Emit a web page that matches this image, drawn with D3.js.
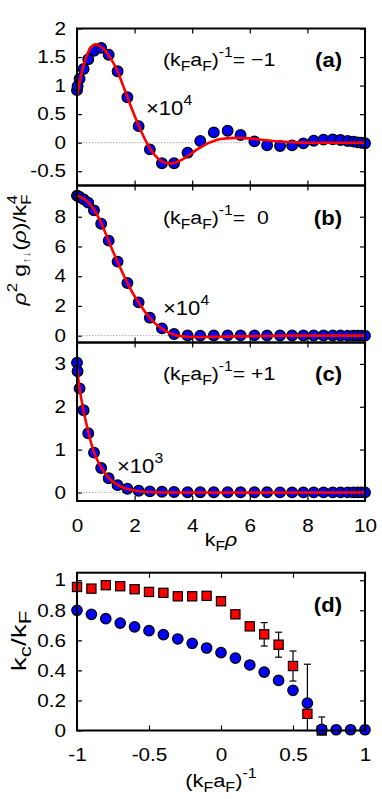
<!DOCTYPE html>
<html><head><meta charset="utf-8">
<script src="https://cdn.jsdelivr.net/npm/d3@7"></script>
<style>body{margin:0;background:#fff} text{font-family:"Liberation Sans",Arial,Helvetica,sans-serif}</style>
</head><body><svg id="c" width="382" height="799"></svg>
<script>
// ---------- data ----------
const rhoGrid = [0, 0.02, 0.09, 0.23, 0.39, 0.59, 0.84, 1.1, 1.41, 1.75, 2.14, 2.53, 2.95, 3.37, 3.84, 4.28, 4.75, 5.23, 5.68, 6.16, 6.6, 7.05, 7.47, 7.86, 8.22, 8.56, 8.88, 9.15, 9.4, 9.6, 9.75, 9.88, 10];
const pointsA = [0.92, 0.99, 1.12, 1.29, 1.46, 1.61, 1.66, 1.54, 1.25, 0.795, 0.29, -0.117, -0.36, -0.36, -0.175, 0.03, 0.18, 0.21, 0.135, 0.023, -0.047, -0.058, -0.047, -0.012, 0.035, 0.053, 0.058, 0.047, 0.03, 0.018, 0.006, 0.0, -0.01];
const pointsB = [9.42, 9.40, 9.33, 9.17, 8.95, 8.43, 7.53, 6.39, 4.98, 3.54, 2.24, 1.21, 0.49, 0.11, 0.01, 0.0, 0.01, 0.02, 0.02, 0.02, 0.01, 0.01, 0.01, 0.01, 0.01, 0.01, 0.01, 0.01, 0.0, 0.0, 0.0, 0.0, 0.0];
const pointsC = [3.03, 2.83, 2.43, 1.92, 1.38, 0.93, 0.57, 0.33, 0.17, 0.087, 0.04, 0.024, 0.015, 0.01, 0.006, 0.005, 0.004, 0.004, 0.003, 0.003, 0.003, 0.002, 0.002, 0.002, 0.002, 0.002, 0.002, 0.002, 0.002, 0.002, 0.002, 0.002, 0.002];

const fitAx = [0, 0.1, 0.2, 0.3, 0.4, 0.5, 0.6, 0.7, 0.8, 0.9, 1.0, 1.2, 1.4, 1.6, 1.8, 2.0, 2.2, 2.4, 2.6, 2.8, 3.0, 3.2, 3.4, 3.6, 3.8, 4.0, 4.2, 4.4, 4.6, 4.8, 5.0, 5.3, 5.6, 6.0, 6.4, 6.8, 7.2, 7.6, 8.0, 9.0, 10];
const fitAy = [0.82, 1.08, 1.3, 1.47, 1.6, 1.68, 1.72, 1.72, 1.69, 1.65, 1.6, 1.45, 1.26, 1.0, 0.73, 0.47, 0.23, 0.02, -0.15, -0.27, -0.34, -0.365, -0.35, -0.31, -0.25, -0.18, -0.11, -0.05, 0.0, 0.04, 0.065, 0.08, 0.085, 0.075, 0.05, 0.03, 0.015, 0.005, 0.0, 0.0, 0.0];
const fitBx = [0, 0.2, 0.4, 0.6, 0.8, 1.0, 1.2, 1.4, 1.6, 1.8, 2.0, 2.2, 2.4, 2.6, 2.8, 3.0, 3.2, 3.4, 3.6, 3.8, 4.2, 4.8, 5.5, 6.5, 7.5, 10];
const fitBy = [9.42, 9.25, 8.95, 8.45, 7.75, 6.85, 5.9, 5.0, 4.15, 3.35, 2.65, 2.05, 1.5, 1.05, 0.68, 0.4, 0.19, 0.05, -0.03, -0.07, -0.09, -0.08, -0.05, -0.02, 0.0, 0.0];
const fitCx = [0, 0.1, 0.2, 0.3, 0.4, 0.5, 0.6, 0.8, 1.0, 1.2, 1.4, 1.6, 1.8, 2.0, 2.4, 3.0, 10];
const fitCy = [2.9, 2.38, 2.0, 1.68, 1.4, 1.13, 0.92, 0.63, 0.42, 0.28, 0.18, 0.115, 0.075, 0.045, 0.015, 0.0, 0.0];

const xTicksRho = [0, 2, 4, 6, 8, 10];
const yTicksA = [-0.5, 0, 0.5, 1, 1.5, 2];
const yTicksB = [0, 2, 4, 6, 8];
const yTicksC = [0, 1, 2, 3];

const invA = [-1, -0.9, -0.8, -0.7, -0.6, -0.5, -0.4, -0.3, -0.2, -0.1, 0, 0.1, 0.2, 0.3, 0.4, 0.5, 0.6, 0.7, 0.8, 0.9, 1];
const kcBlue = [0.80, 0.773, 0.744, 0.715, 0.69, 0.664, 0.638, 0.609, 0.58, 0.549, 0.518, 0.482, 0.436, 0.389, 0.333, 0.267, 0.182, 0.007, 0.005, 0.005, 0.005];
const invRed = [-1, -0.9, -0.8, -0.7, -0.6, -0.5, -0.4, -0.3, -0.2, -0.1, 0, 0.1, 0.2, 0.3, 0.4, 0.5, 0.6, 0.7];
const kcRed = [0.955, 0.944, 0.967, 0.96, 0.94, 0.922, 0.916, 0.893, 0.893, 0.896, 0.86, 0.773, 0.693, 0.64, 0.571, 0.429, 0.111, 0.0];
const kcRedErr = [0.01, 0.01, 0.01, 0.01, 0.01, 0.01, 0.01, 0.01, 0.01, 0.01, 0.01, 0.01, 0.02, 0.078, 0.083, 0.1, 0.33, 0.09];
const xTicksD = [-1, -0.5, 0, 0.5, 1];
const yTicksD = [0, 0.2, 0.4, 0.6, 0.8, 1];

// ---------- drawing ----------
const svg = d3.select("#c");
svg.append("rect").attr("width", 382).attr("height", 799).attr("fill", "#fff");
const L = 77, R = 365, FS = 18, SX = 1.15;
const FF = '"Liberation Sans",Arial,sans-serif';

function fmtNum(v){ return String(v); }
// widen text horizontally around its anchor point
function widen(sel, sx){
  sel.each(function(){
    const t = d3.select(this);
    const x = +t.attr("x") || 0, y = +t.attr("y") || 0;
    t.attr("x", 0).attr("y", 0).attr("transform", `translate(${x},${y}) scale(${sx},1)`);
  });
}

function panel(o){
  const x = d3.scaleLinear().domain(o.xDomain).range([L, R]);
  const y = d3.scaleLinear().domain(o.yDomain).range([o.bottom, o.top]);
  const g = svg.append("g");
  const tick = 5;
  const ax = g.append("g").attr("transform", `translate(${L},0)`)
    .call(d3.axisLeft(y).tickValues(o.yTicks).tickSizeInner(-tick).tickSizeOuter(0).tickPadding(11).tickFormat(fmtNum));
  ax.select(".domain").remove();
  ax.selectAll("text").attr("font-size", FS).attr("font-family", FF).attr("fill", "#000");
  widen(ax.selectAll("text"), SX);
  ax.selectAll("line").attr("stroke", "#000").attr("stroke-width", 1.2);
  const ar = g.append("g").attr("transform", `translate(${R},0)`)
    .call(d3.axisRight(y).tickValues(o.yTicks).tickSizeInner(-tick).tickSizeOuter(0).tickFormat(""));
  ar.select(".domain").remove();
  ar.selectAll("line").attr("stroke", "#000").attr("stroke-width", 1.2);
  const ab = g.append("g").attr("transform", `translate(0,${o.bottom})`)
    .call(d3.axisBottom(x).tickValues(o.xTicks).tickSizeInner(-tick).tickSizeOuter(0).tickPadding(o.showX ? 20 : 0).tickFormat(o.showX ? fmtNum : ""));
  ab.select(".domain").remove();
  ab.selectAll("line").attr("stroke", "#000").attr("stroke-width", 1.2);
  ab.selectAll("text").attr("font-size", FS).attr("font-family", FF).attr("fill", "#000").attr("dy", "0.6em");
  widen(ab.selectAll("text"), SX);
  const at = g.append("g").attr("transform", `translate(0,${o.top})`)
    .call(d3.axisTop(x).tickValues(o.xTicks).tickSizeInner(-tick).tickSizeOuter(0).tickFormat(""));
  at.select(".domain").remove();
  at.selectAll("line").attr("stroke", "#000").attr("stroke-width", 1.2);
  if (o.zero) {
    g.append("line").attr("x1", L).attr("x2", R).attr("y1", y(0)).attr("y2", y(0))
      .attr("stroke", "#999").attr("stroke-width", 0.8).attr("stroke-dasharray", "1.5,1.5");
  }
  return {x, y, g};
}

function frame(o){
  svg.append("rect").attr("x", L).attr("y", o.top).attr("width", R - L).attr("height", o.bottom - o.top)
    .attr("fill", "none").attr("stroke", "#000").attr("stroke-width", 2);
}

function drawRhoPanel(o, pts, fx, fy){
  const p = panel(o);
  p.g.append("g").selectAll("circle").data(rhoGrid).join("circle")
    .attr("cx", d => p.x(d)).attr("cy", (d, i) => p.y(pts[i])).attr("r", 5.3)
    .attr("fill", "#0000ff").attr("stroke", "#000").attr("stroke-width", 1.3);
  const line = d3.line().x(d => p.x(d[0])).y(d => p.y(d[1])).curve(d3.curveCatmullRom.alpha(0.5));
  p.g.append("path").datum(fx.map((v, i) => [v, fy[i]])).attr("d", line)
    .attr("fill", "none").attr("stroke", "#ff0000").attr("stroke-width", 2.6);
  return p;
}

function paramLabel(yb, sign){
  const t = svg.append("text").attr("x", 163).attr("y", yb).attr("font-size", 19).attr("fill", "#000");
  t.append("tspan").text("(k");
  t.append("tspan").attr("font-size", 14).attr("dy", 5).text("F");
  t.append("tspan").attr("dy", -5).text("a");
  t.append("tspan").attr("font-size", 14).attr("dy", 5).text("F");
  t.append("tspan").attr("dy", -5).text(")");
  t.append("tspan").attr("font-size", 14).attr("dy", -9).text("-1");
  t.append("tspan").attr("dy", 9).text("=\u00a0" + sign);
  widen(t, 1.12);
}
function letter(yb, s){
  const t = svg.append("text").attr("x", 342).attr("y", yb).attr("text-anchor", "end")
    .attr("font-size", 21).attr("font-weight", "bold").attr("fill", "#000").text(s);
  widen(t, 1.05);
}
function times(xs, yb, e){
  const t = svg.append("text").attr("x", xs).attr("y", yb).attr("font-size", 21).attr("fill", "#000");
  t.append("tspan").text("\u00d710");
  t.append("tspan").attr("font-size", 15).attr("dy", -10).text(e);
  widen(t, 1.05);
}

const pA = {xDomain: [0, 10], xTicks: xTicksRho, yDomain: [-0.75, 2], yTicks: yTicksA, top: 28.5, bottom: 185.5, zero: true, showX: false};
const pB = {xDomain: [0, 10], xTicks: xTicksRho, yDomain: [-0.46, 10.1], yTicks: yTicksB, top: 185.5, bottom: 342.5, zero: true, showX: false};
const pC = {xDomain: [0, 10], xTicks: xTicksRho, yDomain: [-0.2, 3.5], yTicks: yTicksC, top: 342.5, bottom: 501, zero: true, showX: true};
const pD = {xDomain: [-1, 1], xTicks: xTicksD, yDomain: [0, 1.05], yTicks: yTicksD, top: 572.7, bottom: 730.5, zero: false, showX: true};

drawRhoPanel(pA, pointsA, fitAx, fitAy);
drawRhoPanel(pB, pointsB, fitBx, fitBy);
drawRhoPanel(pC, pointsC, fitCx, fitCy);
frame(pA); frame(pB); frame(pC);

// panel d
const d = panel(pD);
const yc = d.y.copy().clamp(true);
const eb = d.g.append("g");
invRed.forEach((v, i) => {
  if (kcRedErr[i] < 0.03) return;
  const xx = d.x(v), y1 = yc(kcRed[i] + kcRedErr[i]), y2 = yc(kcRed[i] - kcRedErr[i]);
  eb.append("line").attr("x1", xx).attr("x2", xx).attr("y1", y1).attr("y2", y2).attr("stroke", "#000").attr("stroke-width", 1.2);
  eb.append("line").attr("x1", xx - 3.5).attr("x2", xx + 3.5).attr("y1", y1).attr("y2", y1).attr("stroke", "#000").attr("stroke-width", 1.2);
  eb.append("line").attr("x1", xx - 3.5).attr("x2", xx + 3.5).attr("y1", y2).attr("y2", y2).attr("stroke", "#000").attr("stroke-width", 1.2);
});
d.g.append("g").selectAll("rect").data(invRed).join("rect")
  .attr("x", v => d.x(v) - 4.6).attr("y", (v, i) => d.y(kcRed[i]) - 4.6).attr("width", 9.2).attr("height", 9.2)
  .attr("fill", "#ff0000").attr("stroke", "#000").attr("stroke-width", 1.2);
d.g.append("g").selectAll("circle").data(invA).join("circle")
  .attr("cx", v => d.x(v)).attr("cy", (v, i) => d.y(kcBlue[i])).attr("r", 5.2)
  .attr("fill", "#0000ff").attr("stroke", "#000").attr("stroke-width", 1.3);
frame(pD);

// annotations
paramLabel(66, "\u22121"); letter(67, "(a)");
paramLabel(224, "\u00a00"); letter(225, "(b)");
paramLabel(380, "+1"); letter(381, "(c)");
letter(612, "(d)");
times(146, 115, "4");
times(163, 315, "4");
times(117, 473, "3");

// axis titles
const xl = svg.append("text").attr("x", 221).attr("y", 546).attr("text-anchor", "middle").attr("font-size", 19).attr("fill", "#000");
xl.append("tspan").text("k");
xl.append("tspan").attr("font-size", 14).attr("dy", 5).text("F");
xl.append("tspan").attr("dy", -5).attr("font-style", "italic").text("\u03c1");
widen(xl, 1.12);

const xd = svg.append("text").attr("x", 221).attr("y", 787).attr("text-anchor", "middle").attr("font-size", 19).attr("fill", "#000");
xd.append("tspan").text("(k");
xd.append("tspan").attr("font-size", 14).attr("dy", 5).text("F");
xd.append("tspan").attr("dy", -5).text("a");
xd.append("tspan").attr("font-size", 14).attr("dy", 5).text("F");
xd.append("tspan").attr("dy", -5).text(")");
xd.append("tspan").attr("font-size", 14).attr("dy", -9).text("-1");
widen(xd, 1.15);

const yl = svg.append("text").attr("transform", "translate(26,250) rotate(-90) scale(1.2,1)").attr("text-anchor", "middle").attr("font-size", 19).attr("fill", "#000");
yl.append("tspan").attr("font-style", "italic").text("\u03c1");
yl.append("tspan").attr("font-size", 14).attr("dy", -9).text("2");
yl.append("tspan").attr("dy", 9).text("\u00a0g");
yl.append("tspan").attr("font-size", 11).attr("dy", 4).attr("fill", "#555").text("\u2191\u2193");
yl.append("tspan").attr("dy", -4).text("(");
yl.append("tspan").attr("font-style", "italic").text("\u03c1");
yl.append("tspan").text(")/k");
yl.append("tspan").attr("font-size", 14).attr("dy", 5).text("F");
yl.append("tspan").attr("font-size", 14).attr("dx", -8).attr("dy", -14).text("4");

const yd = svg.append("text").attr("transform", "translate(26,641) rotate(-90) scale(1.4,1)").attr("text-anchor", "middle").attr("font-size", 20).attr("fill", "#000");
yd.append("tspan").text("k");
yd.append("tspan").attr("font-size", 16).attr("dy", 5).text("c");
yd.append("tspan").attr("dy", -5).text("/k");
yd.append("tspan").attr("font-size", 16).attr("dy", 5).text("F");
</script></body></html>
